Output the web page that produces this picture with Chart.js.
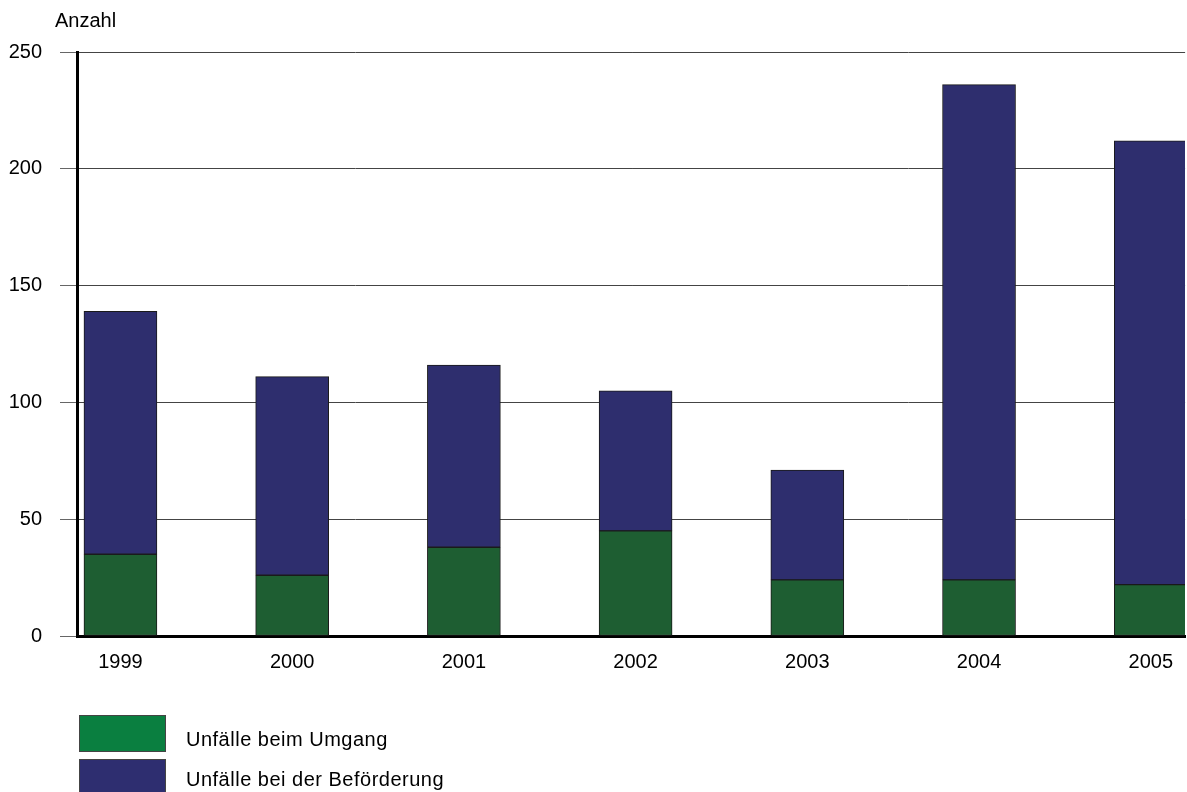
<!DOCTYPE html>
<html lang="de">
<head>
<meta charset="utf-8">
<title>Unfälle</title>
<script src="https://cdn.jsdelivr.net/npm/chart.js@4/dist/chart.umd.min.js"></script>
<style>
  html, body { margin: 0; padding: 0; background: #fff; overflow: hidden; }
  #wrap { position: relative; width: 1187px; height: 792px; }
  #legende { position: absolute; left: 79px; top: 715px; font: 20px "Liberation Sans", Arial, sans-serif; letter-spacing: 0.5px; color: #000; }
  .eintrag { display: flex; align-items: center; height: 37px; margin-bottom: 7px; }
  .eintrag span { position: relative; top: 6px; }
  .eintrag:nth-child(2) span { top: 2px; }
  .kasten { width: 85px; height: 35px; border: 1px solid #444; margin-right: 20px; }
</style>
</head>
<body>
<div id="wrap">
  <canvas id="unfaelleChart" width="1187" height="792"></canvas>
  <div id="legende"></div>
</div>
<script>
// Daten
const jahre = [1999, 2000, 2001, 2002, 2003, 2004, 2005];
const unfaelleUmgang = [35, 26, 38, 45, 24, 24, 22];
const unfaelleBefoerderung = [104, 85, 78, 60, 47, 212, 190];
const yTicks = [0, 50, 100, 150, 200, 250];

const serien = [
  { label: 'Unfälle beim Umgang', werte: unfaelleUmgang, farbe: '#1e5e32', legendeFarbe: '#0a7f40' },
  { label: 'Unfälle bei der Beförderung', werte: unfaelleBefoerderung, farbe: '#2e2e6e', legendeFarbe: '#2e2e70' }
];

const schrift = { family: '"Liberation Sans", Arial, sans-serif', size: 20 };

// Achsentitel "Anzahl" über der y-Achse
const titelPlugin = {
  id: 'anzahlTitel',
  afterDraw(chart) {
    const ctx = chart.ctx;
    ctx.save();
    ctx.font = `${schrift.size}px ${schrift.family}`;
    ctx.fillStyle = '#000';
    ctx.textBaseline = 'middle';
    ctx.fillText('Anzahl', 55, 21);
    ctx.restore();
  }
};

new Chart(document.getElementById('unfaelleChart'), {
  type: 'bar',
  data: {
    datasets: serien.map(s => ({
      label: s.label,
      data: jahre.map((j, i) => ({ x: j, y: s.werte[i] })),
      backgroundColor: s.farbe,
      borderColor: '#1a1a1a',
      borderWidth: 1,
      borderSkipped: false,
      barThickness: 73
    }))
  },
  options: {
    responsive: false,
    animation: false,
    layout: { padding: { top: 52, left: 0, right: 0, bottom: 104 } },
    plugins: {
      legend: { display: false },
      tooltip: { enabled: false }
    },
    scales: {
      x: {
        type: 'linear',
        stacked: true,
        offset: false,
        min: 1998.747,
        max: 2005.2,
        afterBuildTicks: scale => { scale.ticks = jahre.map(v => ({ value: v })); },
        ticks: {
          color: '#000',
          font: schrift,
          padding: 14,
          maxRotation: 0,
          callback: v => String(v)
        },
        grid: { display: false, drawTicks: false },
        border: { display: true, color: '#000', width: 3 }
      },
      y: {
        stacked: true,
        min: 0,
        max: 250,
        // feste Breite, damit die Achse bei x = 77 liegt
        afterFit: scale => { scale.width = 77; },
        afterBuildTicks: scale => { scale.ticks = yTicks.map(v => ({ value: v })); },
        ticks: { color: '#000', font: schrift, padding: 18 },
        grid: { color: '#444', lineWidth: 1, tickLength: 17, tickColor: '#666' },
        border: { display: true, color: '#000', width: 3 }
      }
    }
  },
  plugins: [titelPlugin]
});

// Legende als HTML
const legende = document.getElementById('legende');
serien.forEach(s => {
  const eintrag = document.createElement('div');
  eintrag.className = 'eintrag';
  const kasten = document.createElement('div');
  kasten.className = 'kasten';
  kasten.style.background = s.legendeFarbe;
  const text = document.createElement('span');
  text.textContent = s.label;
  eintrag.appendChild(kasten);
  eintrag.appendChild(text);
  legende.appendChild(eintrag);
});
</script>
</body>
</html>
